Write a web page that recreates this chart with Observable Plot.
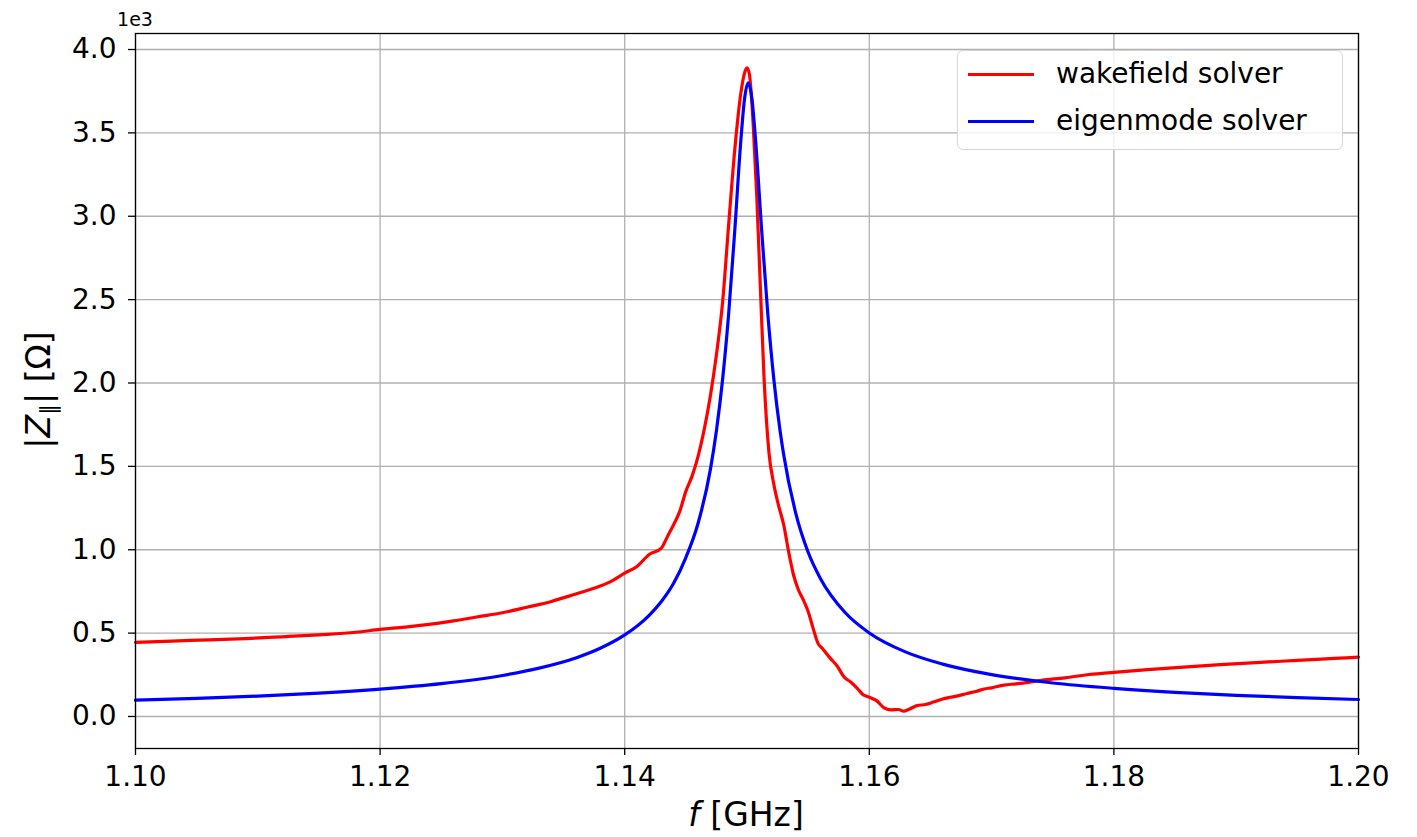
<!DOCTYPE html>
<html><head><meta charset="utf-8">
<script src="https://cdn.jsdelivr.net/npm/d3@7"></script>
<script src="https://cdn.jsdelivr.net/npm/@observablehq/plot@0.6"></script>
<style>
body{margin:0;background:#fff;font-family:"DejaVu Sans",sans-serif;}
#wrap{position:relative;width:1417px;height:837px;}
#legend{position:absolute;left:957px;top:50px;width:386px;height:100px;border:1.3px solid #d6d6d6;border-radius:6px;background:rgba(255,255,255,0.8);box-sizing:border-box;font-family:"DejaVu Sans",sans-serif;font-size:28px;color:#000;}
.item{position:absolute;left:0;height:34px;display:flex;align-items:center;}
.sw{position:absolute;left:10px;width:66px;height:0;border-top:3px solid;}
.lab{position:absolute;left:98px;white-space:nowrap;line-height:34px;}
</style></head><body><div id="wrap"></div>
<script>
// wakefield solver (red)
const redF = [1.100,1.103,1.106,1.109,1.112,1.115,1.118,1.120,1.122,1.124,1.126,1.128,1.130,1.132,1.134,1.136,1.138,1.139,1.140,1.141,1.142,1.143,1.1435,1.144,1.1445,1.145,1.1455,1.146,1.1465,1.147,1.1475,1.148,1.1485,1.149,1.1495,1.1498,1.15,1.1502,1.1505,1.1508,1.1511,1.1514,1.1518,1.1522,1.1526,1.1530,1.1534,1.1538,1.1542,1.1546,1.1550,1.1554,1.1558,1.1562,1.1568,1.1574,1.1579,1.1585,1.1590,1.1595,1.1600,1.1606,1.1612,1.1618,1.1624,1.1628,1.1633,1.1639,1.1646,1.1653,1.1660,1.1666,1.1673,1.1680,1.1687,1.1694,1.1700,1.171,1.172,1.173,1.174,1.176,1.178,1.180,1.183,1.186,1.189,1.192,1.195,1.198,1.200];
const redZ = [445,452,460,467,478,490,505,522,536,552,573,598,622,655,690,735,782,815,860,900,972,1010,1080,1150,1230,1350,1440,1560,1720,1920,2170,2480,2950,3400,3740,3860,3890,3850,3560,3120,2560,2020,1580,1390,1260,1150,990,850,760,700,630,530,440,405,350,300,240,205,170,130,115,95,52,40,42,32,45,65,72,88,105,115,125,138,150,165,172,188,196,205,216,232,252,265,282,298,312,325,336,348,356];
// eigenmode solver (blue)
const blueF = [1.100,1.105,1.110,1.115,1.120,1.125,1.130,1.133,1.136,1.138,1.140,1.142,1.143,1.144,1.145,1.146,1.147,1.1475,1.148,1.1485,1.149,1.1495,1.1498,1.1501,1.1504,1.1507,1.1512,1.1517,1.1522,1.1527,1.153,1.154,1.155,1.156,1.158,1.160,1.163,1.166,1.170,1.175,1.180,1.185,1.190,1.195,1.200];
const blueZ = [98,109,122,140,164,197,246,290,351,409,489,607,690,799,953,1159,1479,1714,2018,2414,2915,3458,3705,3800,3705,3458,2915,2414,2018,1716,1570,1215,985,828,625,501,386,314,251,201,169,145,127,113,102];
const xTicks = [1.10,1.12,1.14,1.16,1.18,1.20];
const yTicks = [0,500,1000,1500,2000,2500,3000,3500,4000];
const seriesNames = ["wakefield solver","eigenmode solver"];
const seriesColors = ["#ff0000","#0000ff"];

const red = redF.map((f,i)=>({f, z: redZ[i]}));
const blue = blueF.map((f,i)=>({f, z: blueZ[i]}));

const chart = Plot.plot({
  width: 1417, height: 837,
  marginLeft: 135, marginRight: 59, marginTop: 33, marginBottom: 89,
  style: {fontFamily: "DejaVu Sans", fontSize: "28px", color: "#000", background: "#fff"},
  x: {domain: [1.10, 1.20]},
  y: {domain: [-192, 4096]},
  marks: [
    Plot.gridX(xTicks, {stroke: "#b0b0b0", strokeOpacity: 1, strokeWidth: 1.3}),
    Plot.gridY(yTicks, {stroke: "#b0b0b0", strokeOpacity: 1, strokeWidth: 1.3}),
    Plot.line(red, {x: "f", y: "z", stroke: seriesColors[0], strokeWidth: 3.2, curve: "monotone-x"}),
    Plot.line(blue, {x: "f", y: "z", stroke: seriesColors[1], strokeWidth: 3.2, curve: "monotone-x"}),
    Plot.axisX({ticks: xTicks, tickFormat: d => d.toFixed(2), tickSize: 7, tickPadding: 11, label: null, fontSize: 28, strokeWidth: 1.3}),
    Plot.axisY({ticks: yTicks, tickFormat: d => (d/1000).toFixed(1), tickSize: 7, tickPadding: 12, label: null, fontSize: 28, strokeWidth: 1.3}),
    Plot.frame({stroke: "#000", strokeWidth: 1.3})
  ]
});
document.getElementById("wrap").appendChild(chart);

const svg = d3.select(chart);
// offset text
svg.append("text").attr("x", 135).attr("y", 26).attr("font-size", 19).attr("font-family", "DejaVu Sans").attr("fill", "#000").text("1e3");
// x label
const xl = svg.append("text").attr("x", 746).attr("y", 826).attr("text-anchor", "middle").attr("font-size", 33).attr("font-family", "DejaVu Sans").attr("fill", "#000");
xl.append("tspan").attr("font-style", "italic").text("f");
xl.append("tspan").text(" [GHz]");
// y label
const yl = svg.append("text").attr("transform", "translate(50,390) rotate(-90)").attr("text-anchor", "middle").attr("font-size", 33).attr("font-family", "DejaVu Sans").attr("fill", "#000");
yl.append("tspan").text("|");
yl.append("tspan").attr("font-style", "italic").text("Z");
yl.append("tspan").attr("font-size", 22).attr("dy", 6).text("∥");
yl.append("tspan").attr("dy", -6).text("| [Ω]");

// legend
const leg = document.createElement("div");
leg.id = "legend";
seriesNames.forEach((n, i) => {
  const it = document.createElement("div");
  it.className = "item";
  it.style.top = (6 + i * 47) + "px";
  it.style.width = "100%";
  const sw = document.createElement("div");
  sw.className = "sw"; sw.style.borderColor = seriesColors[i]; sw.style.top = "16px";
  const lb = document.createElement("div");
  lb.className = "lab"; lb.textContent = n;
  it.appendChild(sw); it.appendChild(lb);
  leg.appendChild(it);
});
document.getElementById("wrap").appendChild(leg);
</script>
</body></html>
